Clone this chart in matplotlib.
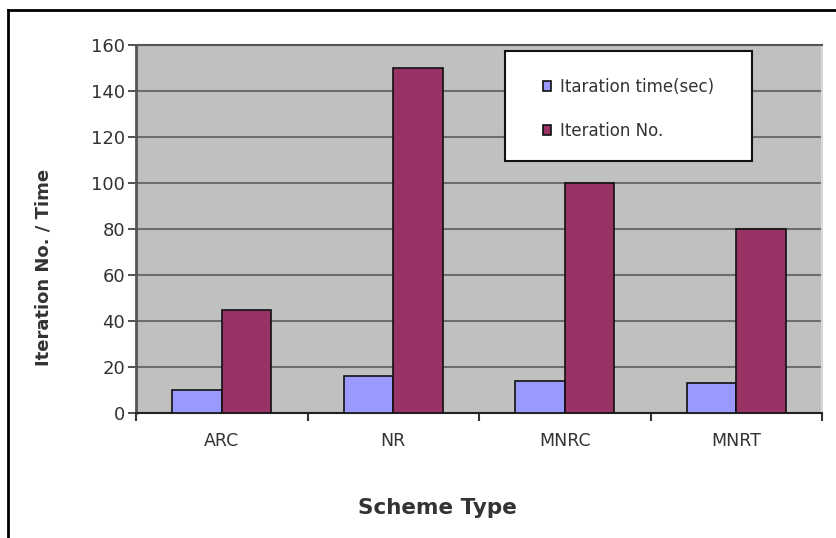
import matplotlib
matplotlib.use("Agg")
import matplotlib.pyplot as plt
from matplotlib.lines import Line2D
from matplotlib.patches import Rectangle
import numpy as np

categories = ["ARC", "NR", "MNRC", "MNRT"]
iter_time = [10, 16, 14, 13]
iter_no = [45, 150, 100, 80]
series_names = ["Itaration time(sec)", "Iteration No."]
yticks = [0, 20, 40, 60, 80, 100, 120, 140, 160]

W, H = 836, 538
fig = plt.figure(figsize=(W / 100, H / 100), dpi=100)
plt.rcParams['font.family'] = ['DejaVu Sans']

L, R, T, B = 136, 822, 45, 413
ax = fig.add_axes([L / W, 1 - B / H, (R - L) / W, (B - T) / H])
ax.set_facecolor("#c0c0c0")

x = np.arange(len(categories))
bw = 0.29
b1 = ax.bar(x - bw / 2, iter_time, bw, color="#9999ff", edgecolor="#111111", linewidth=1.2, zorder=3, label=series_names[0])
b2 = ax.bar(x + bw / 2, iter_no, bw, color="#993366", edgecolor="#111111", linewidth=1.2, zorder=3, label=series_names[1])

ax.set_xlim(-0.5, len(categories) - 0.5)
ax.set_ylim(0, 160)
ax.set_yticks(yticks)
ax.yaxis.grid(True, color="#6e6e6e", linewidth=1.5, zorder=1)
ax.set_axisbelow(True)

ax.set_xticks(x)
ax.set_xticklabels(categories, fontsize=12.5, color="#333333")
ax.tick_params(axis='x', which='major', length=0, pad=14)
ax.set_xticks(np.arange(-0.5, len(categories), 1.0), minor=True)
ax.tick_params(axis='x', which='minor', length=6, width=1.5, color="#333333")
ax.tick_params(axis='y', length=6, width=1.2, color="#333333", labelsize=13, labelcolor="#333333", pad=2)

ax.spines['left'].set_color("#555555")
ax.spines['left'].set_linewidth(2)
ax.spines['bottom'].set_color("#222222")
ax.spines['bottom'].set_linewidth(1.5)
ax.spines['top'].set_color("#555555")
ax.spines['top'].set_linewidth(1.5)
ax.spines['right'].set_color("#d8d8d8")
ax.spines['right'].set_linewidth(1.5)

# legend box
lx0, ly0, lx1, ly1 = 505, 51, 752, 161
rect = Rectangle(((lx0 - L) / (R - L), 1 - (ly1 - T) / (B - T)), (lx1 - lx0) / (R - L), (ly1 - ly0) / (B - T),
                 transform=ax.transAxes, facecolor="white", edgecolor="#111111", linewidth=1.5, zorder=5)
ax.add_patch(rect)
leg = ax.legend(handles=[b1, b2], loc="upper left",
                bbox_to_anchor=((543 - L) / (R - L), 1 - (78 - T) / (B - T)),
                frameon=False, fontsize=12, handlelength=0.5, handleheight=0.5,
                handletextpad=0.5, labelspacing=1.55, borderaxespad=0, borderpad=0)
leg.set_zorder(6)
for t in leg.get_texts():
    t.set_color("#333333")

fig.text(44 / W, 1 - 267 / H, "Iteration No. / Time", rotation=90, ha="center", va="center",
         fontsize=13, fontweight="bold", color="#333333")
fig.text(437 / W, 1 - 508 / H, "Scheme Type", ha="center", va="center",
         fontsize=15.5, fontweight="bold", color="#333333")

# outer frame (top and left edges)
fig.add_artist(Line2D([8 / W, 1.0], [1 - 10 / H, 1 - 10 / H], transform=fig.transFigure, color="black", linewidth=2))
fig.add_artist(Line2D([8 / W, 8 / W], [0, 1 - 10 / H], transform=fig.transFigure, color="black", linewidth=2))

fig.savefig("out.png", dpi=100)
